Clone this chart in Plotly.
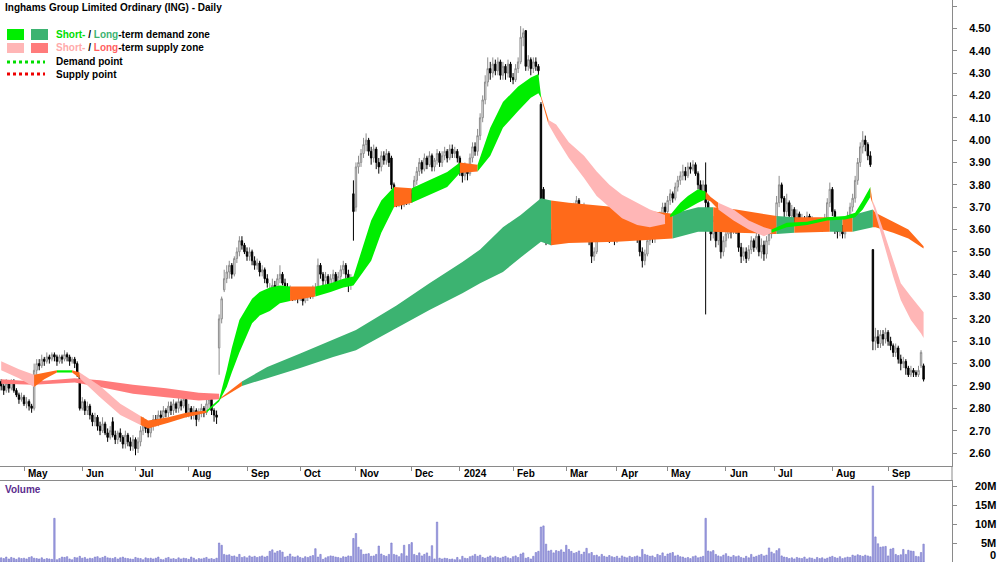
import numpy as np
import pandas as pd
import plotly.graph_objects as go

# ---------------- data ----------------
START = "2023-04-17"
HOLIDAYS = ["2023-04-25", "2023-06-12", "2023-12-25", "2023-12-26", "2024-01-01",
            "2024-01-26", "2024-03-29", "2024-04-01", "2024-04-25", "2024-06-10"]

OPEN = [
 2.92,2.90,2.88,2.91,2.89,2.92,2.88,2.86,2.84,2.85,
 2.82,2.83,2.81,2.80,2.97,3.00,2.99,3.02,3.01,3.03,
 3.02,3.04,3.03,3.01,3.03,3.02,3.04,3.03,3.01,3.02,
 3.00,2.94,2.80,2.83,2.79,2.81,2.77,2.74,2.76,2.72,
 2.70,2.73,2.69,2.67,2.74,2.68,2.66,2.69,2.67,2.64,
 2.68,2.65,2.63,2.66,2.62,2.65,2.70,2.74,2.71,2.69,
 2.72,2.75,2.74,2.77,2.76,2.79,2.78,2.81,2.79,2.82,
 2.80,2.83,2.81,2.84,2.78,2.80,2.77,2.79,2.75,2.78,
 2.80,2.78,2.82,2.84,2.79,2.77,3.07,3.20,3.33,3.38,
 3.41,3.44,3.40,3.47,3.50,3.55,3.53,3.50,3.48,3.50,
 3.46,3.44,3.45,3.41,3.42,3.38,3.26,3.33,3.35,3.33,
 3.38,3.40,3.36,3.34,3.31,3.33,3.30,3.32,3.29,3.31,
 3.28,3.30,3.32,3.30,3.33,3.34,3.44,3.40,3.37,3.39,
 3.35,3.38,3.40,3.36,3.39,3.42,3.44,3.40,3.36,3.76,
 3.70,3.88,3.90,3.94,3.98,4.00,3.95,3.92,3.96,3.90,
 3.88,3.93,3.91,3.94,3.92,3.80,3.76,3.72,3.74,3.71,
 3.75,3.73,3.76,3.74,3.82,3.86,3.90,3.87,3.92,3.89,
 3.93,3.88,3.91,3.94,3.90,3.93,3.95,3.92,3.96,3.94,
 3.95,3.92,3.86,3.84,3.88,3.85,3.92,3.97,3.95,4.02,
 4.10,4.18,4.26,4.32,4.30,4.34,4.31,4.35,4.29,4.33,
 4.30,4.34,4.28,4.27,4.32,4.35,4.46,4.49,4.33,4.36,
 4.32,4.35,4.33,4.16,3.78,3.64,3.56,3.58,3.55,3.62,
 3.66,3.63,3.68,3.65,3.62,3.66,3.64,3.70,3.73,3.68,
 3.66,3.69,3.64,3.55,3.48,3.50,3.56,3.62,3.66,3.63,
 3.60,3.57,3.60,3.55,3.59,3.62,3.64,3.61,3.63,3.60,
 3.62,3.59,3.56,3.50,3.46,3.49,3.55,3.58,3.56,3.60,
 3.62,3.66,3.70,3.68,3.73,3.76,3.74,3.79,3.82,3.84,
 3.86,3.84,3.88,3.87,3.89,3.85,3.80,3.76,3.80,3.72,
 3.62,3.58,3.64,3.55,3.60,3.50,3.55,3.58,3.62,3.59,
 3.65,3.60,3.52,3.48,3.50,3.47,3.51,3.55,3.52,3.57,
 3.50,3.53,3.49,3.55,3.58,3.62,3.60,3.72,3.80,3.74,
 3.68,3.72,3.66,3.69,3.64,3.67,3.62,3.65,3.63,3.66,
 3.61,3.64,3.62,3.60,3.63,3.61,3.65,3.72,3.78,3.68,
 3.62,3.59,3.61,3.58,3.62,3.66,3.70,3.74,3.82,3.90,
 3.97,4.00,3.98,3.93,3.51,3.10,3.12,3.09,3.13,3.11,
 3.14,3.10,3.08,3.05,3.07,3.02,3.00,3.01,2.98,2.95,
 2.97,2.96,2.95,2.99,2.99]

HIGH = [
 2.93,2.91,2.93,2.92,2.93,2.93,2.89,2.87,2.87,2.86,
 2.85,2.84,2.82,3.00,3.02,3.02,3.04,3.03,3.05,3.04,
 3.05,3.05,3.04,3.04,3.04,3.06,3.05,3.04,3.03,3.03,
 3.01,2.95,2.85,2.84,2.83,2.82,2.78,2.78,2.77,2.74,
 2.76,2.74,2.71,2.72,2.76,2.70,2.70,2.71,2.68,2.70,
 2.69,2.67,2.68,2.67,2.67,2.72,2.76,2.75,2.73,2.74,
 2.77,2.77,2.79,2.79,2.81,2.80,2.83,2.83,2.84,2.83,
 2.85,2.84,2.86,2.85,2.82,2.81,2.81,2.80,2.80,2.82,
 2.81,2.84,2.86,2.85,2.80,2.79,3.22,3.30,3.42,3.44,
 3.46,3.45,3.48,3.52,3.57,3.57,3.54,3.52,3.52,3.51,
 3.48,3.47,3.46,3.44,3.43,3.40,3.36,3.38,3.37,3.40,
 3.44,3.41,3.38,3.36,3.35,3.34,3.34,3.33,3.33,3.32,
 3.32,3.34,3.33,3.35,3.36,3.47,3.45,3.41,3.41,3.40,
 3.40,3.42,3.41,3.41,3.44,3.46,3.45,3.42,3.40,3.82,
 3.90,3.93,3.96,4.01,4.03,4.01,3.97,3.98,3.97,3.92,
 3.95,3.95,3.96,3.95,3.93,3.81,3.78,3.77,3.75,3.77,
 3.77,3.78,3.78,3.84,3.88,3.92,3.91,3.94,3.93,3.95,
 3.94,3.92,3.96,3.95,3.95,3.97,3.96,3.98,3.98,3.97,
 3.96,3.93,3.88,3.90,3.89,3.94,3.99,3.99,4.05,4.12,
 4.20,4.29,4.37,4.35,4.37,4.36,4.37,4.36,4.35,4.34,
 4.36,4.35,4.30,4.34,4.37,4.51,4.50,4.49,4.38,4.37,
 4.37,4.37,4.34,4.17,3.79,3.65,3.61,3.60,3.64,3.68,
 3.67,3.70,3.69,3.67,3.68,3.67,3.72,3.75,3.74,3.70,
 3.72,3.70,3.65,3.57,3.52,3.58,3.64,3.68,3.67,3.65,
 3.62,3.62,3.61,3.61,3.64,3.66,3.65,3.65,3.64,3.64,
 3.63,3.61,3.57,3.52,3.51,3.57,3.60,3.60,3.62,3.64,
 3.68,3.72,3.72,3.75,3.78,3.77,3.81,3.84,3.86,3.89,
 3.88,3.90,3.90,3.91,3.90,3.86,3.82,3.82,3.90,3.73,
 3.64,3.66,3.65,3.62,3.61,3.57,3.60,3.64,3.63,3.69,
 3.66,3.61,3.54,3.52,3.52,3.53,3.57,3.56,3.59,3.58,
 3.56,3.55,3.57,3.60,3.64,3.64,3.75,3.84,3.81,3.75,
 3.76,3.73,3.71,3.70,3.69,3.68,3.67,3.66,3.68,3.67,
 3.66,3.65,3.64,3.65,3.64,3.67,3.74,3.81,3.79,3.69,
 3.64,3.63,3.62,3.64,3.68,3.72,3.76,3.84,3.92,3.99,
 4.04,4.02,3.99,3.95,3.51,3.16,3.15,3.15,3.15,3.16,
 3.15,3.12,3.09,3.09,3.08,3.04,3.03,3.02,2.99,2.99,
 2.98,2.97,2.99,3.06,3.00]

LOW = [
 2.88,2.86,2.87,2.87,2.88,2.87,2.85,2.82,2.83,2.81,
 2.80,2.79,2.78,2.79,2.95,2.97,2.98,2.99,3.00,3.00,
 3.01,3.01,2.99,3.00,3.00,3.01,3.01,2.99,3.00,2.98,
 2.94,2.79,2.79,2.77,2.77,2.75,2.72,2.72,2.70,2.68,
 2.69,2.68,2.65,2.66,2.67,2.64,2.64,2.65,2.62,2.62,
 2.63,2.61,2.61,2.59,2.60,2.63,2.68,2.69,2.67,2.67,
 2.70,2.72,2.72,2.74,2.74,2.76,2.76,2.77,2.77,2.78,
 2.78,2.79,2.80,2.76,2.76,2.75,2.75,2.72,2.74,2.76,
 2.76,2.77,2.80,2.77,2.74,2.73,2.95,3.18,3.32,3.36,
 3.38,3.38,3.39,3.45,3.48,3.51,3.49,3.46,3.46,3.44,
 3.42,3.42,3.39,3.39,3.36,3.34,3.24,3.31,3.30,3.31,
 3.36,3.35,3.32,3.29,3.29,3.28,3.28,3.27,3.28,3.26,
 3.27,3.28,3.29,3.29,3.31,3.33,3.38,3.35,3.35,3.33,
 3.33,3.36,3.34,3.34,3.37,3.40,3.38,3.32,3.33,3.55,
 3.68,3.85,3.88,3.92,3.95,3.93,3.89,3.90,3.87,3.85,
 3.86,3.89,3.89,3.88,3.78,3.72,3.70,3.70,3.69,3.70,
 3.71,3.71,3.72,3.73,3.80,3.84,3.85,3.86,3.87,3.88,
 3.86,3.86,3.89,3.88,3.88,3.91,3.90,3.91,3.92,3.92,
 3.90,3.84,3.81,3.82,3.82,3.84,3.90,3.93,3.93,4.00,
 4.08,4.16,4.24,4.27,4.28,4.29,4.29,4.27,4.27,4.27,
 4.28,4.26,4.25,4.26,4.30,4.34,4.42,4.31,4.31,4.29,
 4.30,4.31,4.29,3.55,3.62,3.53,3.54,3.53,3.54,3.60,
 3.60,3.61,3.63,3.59,3.60,3.61,3.62,3.68,3.66,3.63,
 3.64,3.62,3.53,3.45,3.46,3.49,3.55,3.60,3.61,3.58,
 3.54,3.55,3.53,3.54,3.57,3.60,3.59,3.59,3.58,3.59,
 3.57,3.54,3.48,3.43,3.44,3.48,3.53,3.54,3.54,3.58,
 3.61,3.64,3.66,3.67,3.71,3.72,3.73,3.77,3.80,3.82,
 3.82,3.83,3.85,3.86,3.84,3.78,3.74,3.75,3.22,3.60,
 3.55,3.56,3.52,3.53,3.47,3.48,3.52,3.56,3.56,3.58,
 3.58,3.50,3.45,3.46,3.45,3.46,3.49,3.50,3.51,3.48,
 3.47,3.46,3.47,3.53,3.56,3.58,3.59,3.70,3.72,3.65,
 3.66,3.64,3.64,3.62,3.62,3.60,3.60,3.61,3.61,3.59,
 3.59,3.60,3.59,3.59,3.59,3.60,3.64,3.70,3.66,3.58,
 3.56,3.57,3.56,3.56,3.61,3.64,3.68,3.72,3.80,3.88,
 3.94,3.95,3.91,3.88,3.06,3.06,3.07,3.07,3.08,3.09,
 3.08,3.06,3.03,3.03,3.00,2.97,2.98,2.95,2.94,2.94,
 2.94,2.94,2.94,2.98,2.92]

CLOSE = [
 2.90,2.88,2.91,2.89,2.92,2.88,2.86,2.84,2.85,2.82,
 2.83,2.81,2.80,2.97,3.00,2.99,3.02,3.01,3.03,3.02,
 3.04,3.03,3.01,3.03,3.02,3.04,3.03,3.01,3.02,3.00,
 2.95,2.80,2.83,2.79,2.81,2.77,2.74,2.76,2.72,2.70,
 2.73,2.69,2.67,2.70,2.68,2.66,2.69,2.67,2.64,2.68,
 2.65,2.63,2.66,2.62,2.65,2.70,2.74,2.71,2.69,2.72,
 2.75,2.74,2.77,2.76,2.79,2.78,2.81,2.79,2.82,2.80,
 2.83,2.81,2.84,2.78,2.80,2.77,2.79,2.75,2.78,2.80,
 2.78,2.82,2.84,2.79,2.77,2.76,3.20,3.29,3.38,3.41,
 3.44,3.40,3.47,3.50,3.55,3.53,3.50,3.48,3.50,3.46,
 3.44,3.45,3.41,3.42,3.38,3.36,3.33,3.35,3.33,3.38,
 3.40,3.36,3.34,3.31,3.33,3.30,3.32,3.29,3.31,3.28,
 3.30,3.32,3.30,3.33,3.34,3.44,3.40,3.37,3.39,3.35,
 3.38,3.40,3.36,3.39,3.42,3.44,3.40,3.36,3.38,3.68,
 3.88,3.90,3.94,3.98,4.00,3.95,3.92,3.96,3.90,3.88,
 3.93,3.91,3.94,3.90,3.80,3.76,3.72,3.74,3.71,3.75,
 3.73,3.76,3.74,3.82,3.86,3.90,3.87,3.92,3.89,3.93,
 3.88,3.91,3.94,3.90,3.93,3.95,3.92,3.96,3.94,3.95,
 3.92,3.86,3.84,3.88,3.85,3.92,3.97,3.95,4.02,4.10,
 4.18,4.26,4.32,4.30,4.34,4.31,4.35,4.29,4.33,4.30,
 4.34,4.28,4.27,4.32,4.35,4.46,4.48,4.33,4.36,4.32,
 4.35,4.33,4.31,3.58,3.66,3.56,3.58,3.55,3.62,3.66,
 3.63,3.68,3.65,3.62,3.66,3.64,3.70,3.73,3.68,3.66,
 3.69,3.64,3.55,3.48,3.50,3.56,3.62,3.66,3.63,3.60,
 3.57,3.60,3.55,3.59,3.62,3.64,3.61,3.63,3.60,3.62,
 3.59,3.56,3.50,3.46,3.49,3.55,3.58,3.56,3.60,3.62,
 3.66,3.70,3.68,3.73,3.76,3.74,3.79,3.82,3.84,3.86,
 3.84,3.88,3.87,3.89,3.85,3.80,3.76,3.80,3.72,3.62,
 3.58,3.64,3.55,3.60,3.50,3.55,3.58,3.62,3.59,3.65,
 3.60,3.52,3.48,3.50,3.47,3.51,3.55,3.52,3.57,3.50,
 3.53,3.49,3.55,3.58,3.62,3.60,3.72,3.80,3.74,3.68,
 3.72,3.66,3.69,3.64,3.67,3.62,3.65,3.63,3.66,3.61,
 3.64,3.62,3.60,3.63,3.61,3.65,3.72,3.78,3.68,3.62,
 3.59,3.61,3.58,3.62,3.66,3.70,3.74,3.82,3.90,3.97,
 4.00,3.98,3.93,3.89,3.10,3.12,3.09,3.13,3.11,3.14,
 3.10,3.08,3.05,3.07,3.02,3.00,3.01,2.98,2.95,2.97,
 2.96,2.95,2.97,3.05,2.93]

VOLUME_M = [
 1.1,0.9,1.3,0.8,1.2,1.0,0.7,1.1,0.9,1.0,
 0.8,1.2,1.4,1.0,0.9,0.8,1.1,0.7,0.9,0.8,
 0.7,11.5,0.6,0.9,1.3,1.2,1.4,0.8,0.6,1.2,
 1.1,1.5,1.0,1.2,0.8,1.0,0.9,1.3,1.4,1.0,
 1.2,1.5,1.1,1.0,0.9,1.2,0.8,1.1,1.3,1.0,
 0.9,0.8,0.7,1.2,1.0,0.9,0.6,1.1,0.9,1.0,
 0.8,1.0,1.3,0.7,0.6,1.0,1.2,0.8,0.9,0.7,
 1.1,0.8,1.0,0.9,0.7,1.3,1.0,0.6,0.9,0.8,
 1.0,1.2,0.8,0.9,0.7,1.0,5.0,4.4,2.0,1.8,
 1.9,1.5,1.6,1.3,2.0,1.2,1.4,1.1,1.6,1.3,
 1.5,1.2,1.4,1.6,1.3,1.5,2.8,3.2,2.4,2.8,
 3.0,2.6,1.3,1.5,2.1,1.4,1.3,1.6,1.2,1.0,
 1.4,1.2,1.5,1.7,3.5,1.3,2.0,0.7,1.1,1.4,
 1.6,1.5,1.3,1.2,1.0,1.4,1.3,1.6,1.5,6.2,
 7.5,3.9,3.2,2.0,2.1,2.2,1.5,1.6,2.0,4.2,
 2.1,1.7,1.5,2.0,5.0,2.0,1.8,1.4,2.2,4.4,
 1.6,4.6,5.1,2.0,1.7,2.4,1.6,2.0,2.4,1.5,
 4.3,0.8,10.5,1.0,0.8,1.0,0.9,0.7,0.8,0.6,
 1.2,0.6,1.5,1.0,0.9,1.4,1.6,2.0,1.5,1.8,
 1.2,1.0,1.3,1.6,1.1,1.4,1.2,1.0,1.3,1.5,
 1.1,0.9,1.4,1.6,1.2,2.1,2.4,1.0,1.2,0.8,
 1.5,2.5,2.8,9.2,9.5,4.7,2.9,3.1,2.4,3.0,
 2.8,3.2,2.6,4.4,3.3,2.8,2.3,2.5,2.9,2.0,
 2.6,3.6,2.2,2.5,1.7,1.8,1.4,2.0,1.5,1.3,
 1.7,1.4,1.2,1.5,1.0,1.6,1.3,1.1,1.5,1.2,
 1.4,1.6,1.3,3.3,2.0,1.8,1.5,1.6,1.2,2.0,
 1.7,2.4,1.5,2.1,2.3,2.5,1.6,1.8,1.4,1.3,
 1.0,1.2,0.9,1.4,1.6,1.1,1.3,1.5,11.5,2.9,
 2.7,3.0,2.0,1.6,1.4,1.8,2.2,1.5,1.3,1.7,
 1.4,1.6,1.2,1.0,1.5,1.1,2.0,1.3,1.5,1.8,
 2.0,1.6,1.8,3.7,2.6,2.2,3.0,3.5,1.6,1.3,
 1.2,0.9,1.1,0.8,1.2,1.0,0.9,1.3,0.8,1.1,
 1.0,0.7,1.2,0.9,1.1,0.8,1.0,1.3,1.5,1.2,
 1.0,1.4,0.9,1.1,1.3,1.2,1.8,1.6,1.9,1.7,
 1.5,1.8,1.6,1.4,20.0,6.6,4.8,3.9,4.0,4.1,
 1.6,3.4,3.6,2.0,1.7,1.9,3.3,2.0,3.1,2.9,
 2.8,1.5,1.4,2.5,4.7]

# short-term zone: knot bar index, upper edge, lower edge, colour code per interval
ST_X = [0, 7, 13, 17, 22, 28, 31, 39, 47, 55,
        58, 66, 73, 81, 86, 89, 91, 94, 97, 99,
        102, 106, 110, 114, 124, 130, 135, 139, 146, 150,
        155, 162, 169, 176, 181, 188, 193, 198, 204, 209,
        212, 213, 216, 219, 224, 230, 235, 240, 245, 251,
        256, 262, 264, 268, 271, 275, 278, 280, 283, 289,
        295, 301, 304, 310, 318, 326, 333, 337, 340, 343,
        344, 345, 348, 352, 355, 359, 363, 364]
ST_HI = [3.01, 2.975, 2.95, 2.96, 2.97, 2.97, 2.96, 2.90, 2.82, 2.765,
         2.745, 2.76, 2.78, 2.79, 2.84, 2.97, 3.07, 3.195, 3.253, 3.29,
         3.32, 3.34, 3.35, 3.345, 3.345, 3.36, 3.38, 3.39, 3.64, 3.73,
         3.79, 3.785, 3.82, 3.857, 3.90, 3.89, 4.055, 4.17, 4.24, 4.28,
         4.296, 4.20, 4.09, 4.07, 3.99, 3.93, 3.86, 3.80, 3.755, 3.72,
         3.69, 3.665, 3.665, 3.72, 3.75, 3.78, 3.77, 3.745, 3.72, 3.69,
         3.64, 3.61, 3.60, 3.63, 3.635, 3.655, 3.66, 3.675, 3.73, 3.79,
         3.725, 3.70, 3.60, 3.465, 3.36, 3.30, 3.24, 3.23]
ST_LO = [2.97, 2.935, 2.895, 2.93, 2.96, 2.96, 2.935, 2.85, 2.77, 2.725,
         2.71, 2.735, 2.76, 2.78, 2.83, 2.895, 2.96, 3.05, 3.128, 3.18,
         3.215, 3.235, 3.27, 3.28, 3.30, 3.32, 3.34, 3.35, 3.46, 3.585,
         3.70, 3.72, 3.755, 3.79, 3.853, 3.86, 3.93, 4.055, 4.13, 4.19,
         4.21, 4.19, 4.07, 4.01, 3.92, 3.83, 3.75, 3.70, 3.65, 3.62,
         3.61, 3.625, 3.655, 3.675, 3.695, 3.72, 3.735, 3.725, 3.69, 3.64,
         3.60, 3.57, 3.585, 3.61, 3.62, 3.64, 3.645, 3.655, 3.69, 3.745,
         3.71, 3.675, 3.555, 3.39, 3.285, 3.195, 3.135, 3.115]
ST_CODES = ("PP" "OO" "G" "O" "PPP" "OOOO" "GGGGGGGGGG" "O" "GGGGGG" "O" "GGG" "O"
            "GGGGGG" "O" "PPPPPPPPP" "O" "GGGG" "OO" "PPPP" "GGGGGGG" "O" "PPPPPPP")

# long-term zone
LT_X = [0, 13, 29, 39, 52, 65, 78, 86, 86, 95,
        105, 118, 131, 140, 156, 169, 182, 189, 198, 205,
        213, 217, 224, 243, 265, 275, 281, 290, 306, 313,
        327, 332, 336, 344, 345, 352, 358, 364]
LT_HI = [2.93, 2.92, 2.935, 2.925, 2.905, 2.89, 2.87, 2.865, 2.842, 2.92,
         2.985, 3.045, 3.105, 3.15, 3.26, 3.36, 3.455, 3.51, 3.61, 3.665,
         3.74, 3.73, 3.72, 3.70, 3.67, 3.70, 3.70, 3.69, 3.66, 3.655,
         3.655, 3.655, 3.665, 3.69, 3.675, 3.635, 3.60, 3.525]
LT_LO = [2.91, 2.905, 2.915, 2.895, 2.865, 2.85, 2.835, 2.84, 2.838, 2.90,
         2.935, 2.98, 3.03, 3.06, 3.16, 3.24, 3.315, 3.36, 3.41, 3.475,
         3.545, 3.53, 3.54, 3.545, 3.56, 3.59, 3.59, 3.585, 3.58, 3.585,
         3.59, 3.59, 3.59, 3.61, 3.61, 3.585, 3.56, 3.515]
LT_CODES = ("RRRRRRR" "-" "O" "DDDDDDDDDDDD" "OOO" "DD" "OO" "D" "O" "D" "O" "D" "OOOO")

MONTH_LABELS = ["May", "Jun", "Jul", "Aug", "Sep", "Oct", "Nov", "Dec", "2024",
                "Feb", "Mar", "Apr", "May", "Jun", "Jul", "Aug", "Sep"]
PRICE_TICKS = [2.6, 2.7, 2.8, 2.9, 3.0, 3.1, 3.2, 3.3, 3.4, 3.5, 3.6, 3.7, 3.8,
               3.9, 4.0, 4.1, 4.2, 4.3, 4.4, 4.5, 4.6]
VOL_TICKS = [0, 5, 10, 15, 20]
VOL_LABELS = ["0", "5M", "10M", "15M", "20M"]

TITLE = "Inghams Group Limited Ordinary (ING) - Daily"

ZONE_COLORS = {"G": "#00ee00", "D": "#3cb371", "P": "#ffb6b6", "R": "#ff7b7b", "O": "#ff6a1a"}

# ---------------- figure ----------------
W, H = 1000, 562
def px(x):
    return x / W
def py(y):
    return 1 - y / H

FONT = "Liberation Sans, Arial, sans-serif"
N = len(CLOSE)
dates = pd.bdate_range(START, "2024-12-31", freq="C", holidays=HOLIDAYS)[:N]
bar_idx = list(range(N))
month_pos = [i for i in range(1, N) if dates[i].month != dates[i - 1].month]

fig = go.Figure()

def add_zone(xs, hi, lo, codes):
    n = len(codes)
    i = 0
    while i < n:
        c = codes[i]
        j = i
        while j + 1 < n and codes[j + 1] == c:
            j += 1
        if c != "-":
            sx = xs[i:j + 2]
            sh = hi[i:j + 2]
            sl = lo[i:j + 2]
            fig.add_trace(go.Scatter(
                x=sx + sx[::-1], y=sh + sl[::-1], mode="lines", fill="toself",
                fillcolor=ZONE_COLORS[c], line=dict(width=0, color=ZONE_COLORS[c]),
                hoverinfo="skip", showlegend=False, xaxis="x", yaxis="y"))
        i = j + 1

add_zone(LT_X, LT_HI, LT_LO, LT_CODES)
add_zone(ST_X, ST_HI, ST_LO, ST_CODES)

fig.add_trace(go.Candlestick(
    x=bar_idx, open=OPEN, high=HIGH, low=LOW, close=CLOSE,
    increasing=dict(line=dict(color="#8c8c8c", width=1), fillcolor="#ffffff"),
    decreasing=dict(line=dict(color="#000000", width=1), fillcolor="#000000"),
    whiskerwidth=0, hoverinfo="skip", showlegend=False, xaxis="x", yaxis="y"))

fig.add_trace(go.Bar(
    x=bar_idx, y=VOLUME_M, width=0.55,
    marker=dict(color="#a3a3e3", line=dict(color="#7474c8", width=0.6)),
    hoverinfo="skip", showlegend=False, xaxis="x2", yaxis="y2"))

XR = [(0 - 1.2) / 2.534, (952 - 1.2) / 2.534]
price_top = 4.60 + 6 / 223.5
price_bot = 4.60 - (466 - 6) / 223.5
AXC = "#8a8a8a"

fig.update_layout(
    width=W, height=H, margin=dict(l=0, r=0, t=0, b=0),
    paper_bgcolor="white", plot_bgcolor="white", showlegend=False,
    boxgap=0.2,
    font=dict(family=FONT, color="black"),
    xaxis=dict(domain=[0, 0.952], range=XR, anchor="y", showgrid=False, zeroline=False,
               showline=True, linecolor=AXC, linewidth=1, ticks="outside", ticklen=4,
               tickcolor=AXC, tickvals=month_pos, showticklabels=False,
               rangeslider=dict(visible=False)),
    yaxis=dict(domain=[py(466), 1], range=[price_bot, price_top], anchor="x", side="right",
               showgrid=False, zeroline=False, showline=True, linecolor=AXC, linewidth=1,
               ticks="outside", ticklen=4, tickcolor=AXC, tickvals=PRICE_TICKS,
               ticktext=["<b>%.2f</b>" % v for v in PRICE_TICKS],
               tickfont=dict(size=11, family=FONT, color="black"), ticklabelstandoff=10),
    xaxis2=dict(domain=[0, 0.952], range=XR, anchor="y2", matches="x", showgrid=False,
                zeroline=False, showline=True, mirror=True, linecolor=AXC, linewidth=1,
                ticks="", showticklabels=False),
    yaxis2=dict(domain=[0, py(481)], range=[0, 81 / 3.8], anchor="x2", side="right",
                showgrid=False, zeroline=False, showline=True, linecolor=AXC, linewidth=1,
                ticks="outside", ticklen=4, tickcolor=AXC, tickvals=VOL_TICKS,
                showticklabels=False),
)

shapes = [dict(type="line", xref="paper", yref="paper", x0=0.952, x1=0.952,
               y0=py(481), y1=py(466), line=dict(color=AXC, width=1))]
annotations = []

# month labels
for pos, lab in zip(month_pos, MONTH_LABELS):
    annotations.append(dict(x=pos + 0.7, y=py(474), xref="x", yref="paper", text="<b>%s</b>" % lab,
                            showarrow=False, xanchor="left", yanchor="middle",
                            font=dict(size=10, family=FONT, color="black")))
# volume labels (lowest one lifted so it stays fully inside the page)
for v, lab in zip(VOL_TICKS, VOL_LABELS):
    annotations.append(dict(x=0.998, y=v, xref="paper", yref="y2", text="<b>%s</b>" % lab,
                            showarrow=False, xanchor="right", yanchor="middle",
                            yshift=7 if v == 0 else 0,
                            font=dict(size=11, family=FONT, color="black")))

annotations.append(dict(x=px(3), y=py(7), xref="paper", yref="paper", text="<b>%s</b>" % TITLE,
                        showarrow=False, xanchor="left", yanchor="middle",
                        font=dict(size=10, family=FONT, color="black")))
annotations.append(dict(x=px(3), y=py(489), xref="paper", yref="paper", text="<b>Volume</b>",
                        showarrow=False, xanchor="left", yanchor="middle",
                        font=dict(size=10, family=FONT, color="#5b2d8e")))

# legend
box_rows = [(29, 40, "#00ee00", "#3cb371"), (43, 53, "#ffb6b6", "#ff7b7b")]
for y0, y1, c1, c2 in box_rows:
    shapes.append(dict(type="rect", xref="paper", yref="paper", x0=px(7), x1=px(24),
                       y0=py(y1), y1=py(y0), fillcolor=c1, line=dict(width=0)))
    shapes.append(dict(type="rect", xref="paper", yref="paper", x0=px(31), x1=px(48),
                       y0=py(y1), y1=py(y0), fillcolor=c2, line=dict(width=0)))
for yy, col in [(62, "#00dd00"), (74, "#ee0000")]:
    shapes.append(dict(type="line", xref="paper", yref="paper", x0=px(7), x1=px(45),
                       y0=py(yy), y1=py(yy), line=dict(color=col, width=3, dash="dot")))

legend_texts = [
    (35, "<span style='color:#00dd00'>Short-</span> / <span style='color:#3cb371'>Long</span>-term demand zone"),
    (48, "<span style='color:#ffaaaa'>Short-</span> / <span style='color:#ff6060'>Long</span>-term supply zone"),
    (62, "Demand point"),
    (75, "Supply point"),
]
for yy, t in legend_texts:
    annotations.append(dict(x=px(54), y=py(yy), xref="paper", yref="paper", text="<b>%s</b>" % t,
                            showarrow=False, xanchor="left", yanchor="middle",
                            font=dict(size=10, family=FONT, color="black")))

fig.update_layout(shapes=shapes, annotations=annotations)
fig.write_html("out.html")
